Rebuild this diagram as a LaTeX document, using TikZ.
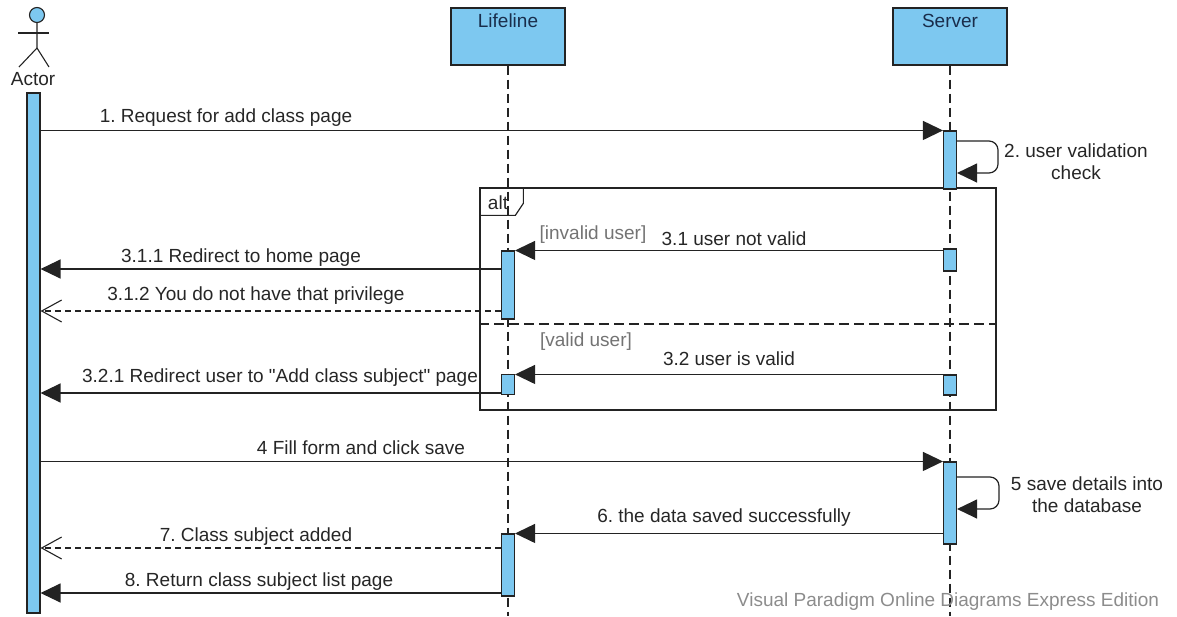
\documentclass[tikz,border=0pt]{standalone}
\usepackage{fontspec}
\setmainfont{Liberation Sans}
\usetikzlibrary{arrows.meta,positioning,calc}
\definecolor{vpblue}{RGB}{125,200,240}
\definecolor{vpline}{RGB}{35,35,35}
\definecolor{vpnavy}{RGB}{25,45,75}

\begin{document}
\begin{tikzpicture}[x=1pt, y=-1pt,
    header/.style={rectangle, draw=vpline, fill=vpblue, line width=1.3pt, minimum width=114pt, minimum height=57pt, inner sep=0pt},
    bar/.style={rectangle, draw=vpline, fill=vpblue, line width=1.1pt, minimum width=13pt, inner sep=0pt},
    lifeline/.style={draw=vpline, line width=1.1pt, dash pattern=on 9pt off 5pt},
    msg/.style={draw=vpline, line width=1.2pt, -{Triangle[length=20pt,width=19pt]}},
    reply/.style={draw=vpline, line width=1.1pt, dash pattern=on 6pt off 4pt, -{Straight Barb[length=20pt,width=22pt]}},
    msgtext/.style={font=\fontsize{19}{22}\selectfont\frenchspacing, text=black!85, inner sep=0pt, align=center},
    guard/.style={msgtext, text=black!55}
]
\useasboundingbox (0,0) rectangle (1177,616);

% Actor
\node[circle, draw=vpline, fill=vpblue, line width=1.1pt, minimum size=15pt, inner sep=0pt] (head) at (37,15) {};
\draw[vpline, line width=1.1pt] (head.south) -- (37,48) -- (19,67);
\draw[vpline, line width=1.1pt] (37,48) -- (49,67);
\draw[vpline, line width=1.1pt] (18,33) -- (49,33);
\node[msgtext] (actor) at (33,79) {Actor};

% Heads
\node[header] (lline) at (508,36.5) {};
\node[msgtext, text=vpnavy] (llinetext) at (508,21) {Lifeline};
\node[header] (server) at (950,36.5) {};
\node[msgtext, text=vpnavy] (servertext) at (950,21) {Server};

% Lifelines
\coordinate (lend) at (508,616);
\coordinate (send) at (950,616);
\draw[lifeline] (lline.south) -- (lend);
\draw[lifeline] (server.south) -- (send);

% alt frame
\node[draw=vpline, line width=1.3pt, minimum width=516pt, minimum height=222pt, inner sep=0pt] (altfr) at (738,299) {};
\draw[vpline, line width=1.2pt] (altfr.north west) ++(0,28) -- ++(36,0) -- ++(8,-12) -- ++(0,-16);
\node[msgtext] (alt) at (498,203) {alt};
\draw[vpline, line width=1.2pt, dash pattern=on 10pt off 5pt] (altfr.west |- 0,324) -- (altfr.east |- 0,324);

% Activations
\node[bar, minimum height=520pt] (actbar) at (33.5,353) {};
\node[bar, minimum height=58pt] (srv1) at (950,160) {};
\node[bar, minimum height=22pt] (srv2) at (950,260) {};
\node[bar, minimum height=68pt] (lif1) at (508,285) {};
\node[bar, minimum height=20pt] (srv3) at (950,385) {};
\node[bar, minimum height=20pt] (lif2) at (508,384.5) {};
\node[bar, minimum height=82pt] (srv4) at (950,503) {};
\node[bar, minimum height=62pt] (lif3) at (508,565) {};

% Messages
\draw[msg] (actbar.east |- srv1.north) -- (srv1.north west);
\draw[msg, rounded corners=9pt] (srv1.east |- 0,141) -- (998,141) -- (998,173) -- (srv1.east |- 0,173);
\draw[msg] (srv2.west |- lif1.north) -- (lif1.north east);
\draw[msg] (lif1.west |- 0,269) -- (actbar.east |- 0,269);
\draw[reply] (lif1.west |- 0,311) -- (actbar.east |- 0,311);
\draw[msg] (srv3.north west) -- (lif2.east |- srv3.north);
\draw[msg] (lif2.west |- 0,393) -- (actbar.east |- 0,393);
\draw[msg] (actbar.east |- srv4.north) -- (srv4.north west);
\draw[msg, rounded corners=9pt] (srv4.east |- 0,477) -- (999,477) -- (999,509) -- (srv4.east |- 0,509);
\draw[msg] (srv4.west |- lif3.north) -- (lif3.north east);
\draw[reply] (lif3.west |- 0,548) -- (actbar.east |- 0,548);
\draw[msg] (lif3.west |- 0,593) -- (actbar.east |- 0,593);

% Labels
\node[msgtext] (l1) at (226,118) {1. Request for add class page};
\node[msgtext] (l2) at (1076,162) {2. user validation\\check};
\node[guard] (g1) at (593,235) {[invalid user]};
\node[msgtext] (l31) at (734,239) {3.1 user not valid};
\node[msgtext] (l311) at (241,258) {3.1.1 Redirect to home page};
\node[msgtext] (l312) at (256,296) {3.1.2 You do not have that privilege};
\node[guard] (g2) at (586,342) {[valid user]};
\node[msgtext] (l32) at (729,359) {3.2 user is valid};
\node[msgtext] (l321) at (280,378) {3.2.1 Redirect user to \textquotedbl Add class subject\textquotedbl{} page};
\node[msgtext] (l4) at (361,448) {4 Fill form and click save};
\node[msgtext] (l5) at (1087,495) {5 save details into\\the database};
\node[msgtext] (l6) at (724,518) {6. the data saved successfully};
\node[msgtext] (l7) at (256,537) {7. Class subject added};
\node[msgtext] (l8) at (259,582) {8. Return class subject list page};

% Watermark
\node[guard, text=black!45] (mark) at (948,602) {Visual Paradigm Online Diagrams Express Edition};

\end{tikzpicture}
\end{document}
